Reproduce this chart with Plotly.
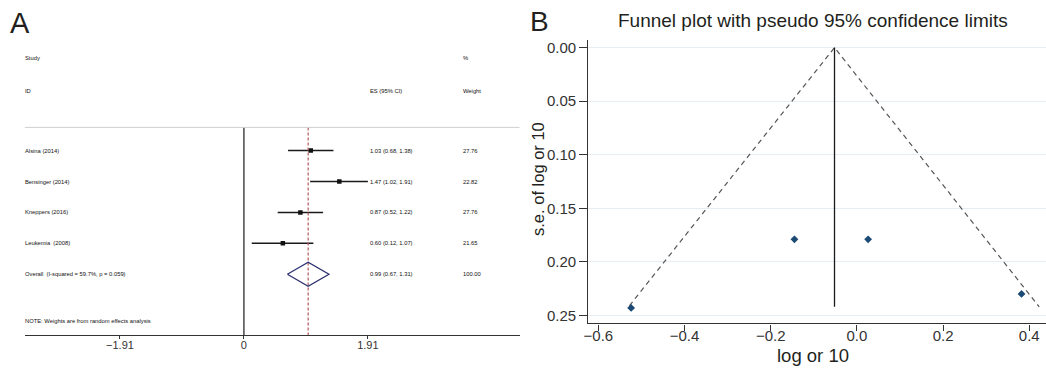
import plotly.graph_objects as go

# ---------------- data: forest plot (panel A) ----------------
studies = ["Alsina (2014)", "Bensinger (2014)", "Kneppers (2016)", "Leukemia  (2008)"]
es = [1.03, 1.47, 0.87, 0.60]
ci_lo = [0.68, 1.02, 0.52, 0.12]
ci_hi = [1.38, 1.91, 1.22, 1.07]
weights = ["27.76", "22.82", "27.76", "21.65"]
overall_label = "Overall  (I-squared = 59.7%, p = 0.059)"
overall_es = 0.99
overall_lo = 0.67
overall_hi = 1.31
overall_weight = "100.00"
forest_ticks = [-1.91, 0, 1.91]
forest_ticktext = ["\u22121.91", "0", "1.91"]

# ---------------- data: funnel plot (panel B) ----------------
log_or = [-0.524, -0.145, 0.026, 0.382]
se_log_or = [0.243, 0.179, 0.179, 0.230]
funnel_center = -0.052
funnel_se_max = 0.242
funnel_left_end = (-0.528, 0.241)
funnel_right_end = (0.423, 0.242)

W, H = 1046, 369
FONT = "Liberation Sans, Arial, Helvetica, sans-serif"
TXT = "#231f20"
XS = -5  # compensate annotation padding for left-anchored texts


def xp(px):
    return px / W


def yp(py):
    return 1 - py / H


fig = go.Figure()

rows = list(range(len(studies)))
overall_row = len(studies)
header_row = -0.75
axis_row = 5.968

# CI lines
cx, cy = [], []
for r, lo, hi in zip(rows, ci_lo, ci_hi):
    cx += [lo, hi, None]
    cy += [r, r, None]
fig.add_trace(go.Scatter(x=cx, y=cy, mode="lines", line=dict(color="#1a1a1a", width=1.5),
                         hoverinfo="skip", xaxis="x", yaxis="y", showlegend=False))
fig.add_trace(go.Scatter(x=es, y=rows, mode="markers",
                         marker=dict(symbol="square", size=4.5, color="#111111"),
                         xaxis="x", yaxis="y", showlegend=False))
fig.add_trace(go.Scatter(x=[0, 0], y=[header_row, axis_row], mode="lines",
                         line=dict(color="#1a1a1a", width=1.2), xaxis="x", yaxis="y",
                         showlegend=False, hoverinfo="skip"))
fig.add_trace(go.Scatter(x=[overall_es, overall_es], y=[header_row, axis_row], mode="lines",
                         line=dict(color="#b5585a", width=1.2, dash="3px,2px"), xaxis="x", yaxis="y",
                         showlegend=False, hoverinfo="skip"))
dh = 0.39
fig.add_trace(go.Scatter(x=[overall_lo, overall_es, overall_hi, overall_es, overall_lo],
                         y=[overall_row, overall_row - dh, overall_row, overall_row + dh, overall_row],
                         mode="lines", line=dict(color="#2d3170", width=1.3),
                         xaxis="x", yaxis="y", showlegend=False, hoverinfo="skip"))

# ---------------- funnel plot traces ----------------
fig.add_trace(go.Scatter(x=[funnel_left_end[0], funnel_center, funnel_right_end[0]],
                         y=[funnel_left_end[1], 0, funnel_right_end[1]],
                         mode="lines", line=dict(color="#555555", width=1.2, dash="5px,4px"),
                         xaxis="x2", yaxis="y2", showlegend=False, hoverinfo="skip"))
fig.add_trace(go.Scatter(x=[funnel_center, funnel_center], y=[0, funnel_se_max],
                         mode="lines", line=dict(color="#1a1a1a", width=1.3),
                         xaxis="x2", yaxis="y2", showlegend=False, hoverinfo="skip"))
fig.add_trace(go.Scatter(x=log_or, y=se_log_or, mode="markers",
                         marker=dict(symbol="diamond", size=6, color="#1b4a75"),
                         xaxis="x2", yaxis="y2", showlegend=False))

# ---------------- annotations ----------------
ann = []
small = dict(family=FONT, size=5.8, color="#111111")


def add_text(text, x, y, xref, yref, font, xanchor="left", **kw):
    if xanchor == "left" and "xshift" not in kw:
        kw["xshift"] = XS
    ann.append(dict(text=text, x=x, y=y, xref=xref, yref=yref, showarrow=False,
                    xanchor=xanchor, yanchor="middle", font=font, **kw))


add_text("Study", xp(23), -2.98, "paper", "y", small)
add_text("ID", xp(23), -1.94, "paper", "y", small)
add_text("ES (95% CI)", 1.99, -1.94, "x", "y", small)
add_text("%", 3.42, -2.98, "x", "y", small)
add_text("Weight", 3.42, -1.94, "x", "y", small)
for r, name, e, lo, hi, w in zip(rows, studies, es, ci_lo, ci_hi, weights):
    add_text(name, xp(23), r, "paper", "y", small)
    add_text(f"{e:.2f} ({lo:.2f}, {hi:.2f})", 1.99, r, "x", "y", small)
    add_text(w, 3.42, r, "x", "y", small)
add_text(overall_label, xp(23), overall_row, "paper", "y", small)
add_text(f"{overall_es:.2f} ({overall_lo:.2f}, {overall_hi:.2f})", 1.99, overall_row, "x", "y", small)
add_text(overall_weight, 3.42, overall_row, "x", "y", small)
add_text("NOTE: Weights are from random effects analysis", xp(23), 5.52, "paper", "y", small)

add_text("A", xp(8), yp(22), "paper", "paper", dict(family=FONT, size=29, color=TXT))
add_text("B", xp(531), yp(21), "paper", "paper", dict(family=FONT, size=28, color=TXT))

add_text("Funnel plot with pseudo 95% confidence limits", xp(812), yp(20), "paper", "paper",
         dict(family=FONT, size=19, color=TXT), xanchor="center")
add_text("log or 10", xp(812), yp(355), "paper", "paper",
         dict(family=FONT, size=18.5, color=TXT), xanchor="center")
add_text("s.e. of log or 10", xp(535), yp(178), "paper", "paper",
         dict(family=FONT, size=16.5, color=TXT), xanchor="center", textangle=-90)

shapes = [dict(type="line", xref="paper", yref="y", x0=xp(20), x1=xp(517),
               y0=header_row, y1=header_row, line=dict(color="#cfcfcf", width=1))]

fig.update_layout(
    width=W, height=H, autosize=False,
    margin=dict(l=0, r=0, t=0, b=0),
    paper_bgcolor="white", plot_bgcolor="white",
    font=dict(family=FONT, color=TXT),
    annotations=ann, shapes=shapes,
    xaxis=dict(domain=[xp(20), xp(517)], range=[-3.375, 4.247], anchor="y",
               showline=True, linecolor="#333333", linewidth=1,
               ticks="outside", ticklen=3, tickcolor="#333333",
               tickvals=forest_ticks, ticktext=forest_ticktext, ticklabelstandoff=-3,
               tickfont=dict(family=FONT, size=11, color="#333333"),
               showgrid=False, zeroline=False),
    yaxis=dict(domain=[yp(335), yp(40)], range=[axis_row, -3.548], visible=False,
               showgrid=False, zeroline=False),
    xaxis2=dict(domain=[xp(586), 1.0], range=[-0.6236, 0.4388], anchor="y2",
                showline=True, linecolor="#333333", linewidth=1.2,
                ticks="outside", ticklen=6, tickcolor="#333333",
                dtick=0.2, tick0=0, tickformat=".1f", ticklabelstandoff=-8,
                tickfont=dict(family=FONT, size=15, color="#333333"),
                showgrid=False, zeroline=False),
    yaxis2=dict(domain=[yp(323.3), yp(39)], range=[0.2575, -0.0072], anchor="x2",
                showline=True, linecolor="#333333", linewidth=1.2,
                ticks="outside", ticklen=8, tickcolor="#333333",
                dtick=0.05, tick0=0, tickformat=".2f",
                tickfont=dict(family=FONT, size=15, color="#333333"),
                showgrid=True, gridcolor="#e6eef3", gridwidth=1, zeroline=False),
)

fig.write_html("out.html", config={"displayModeBar": False},
               post_script="document.body.style.margin='0';document.body.style.overflow='hidden';")
